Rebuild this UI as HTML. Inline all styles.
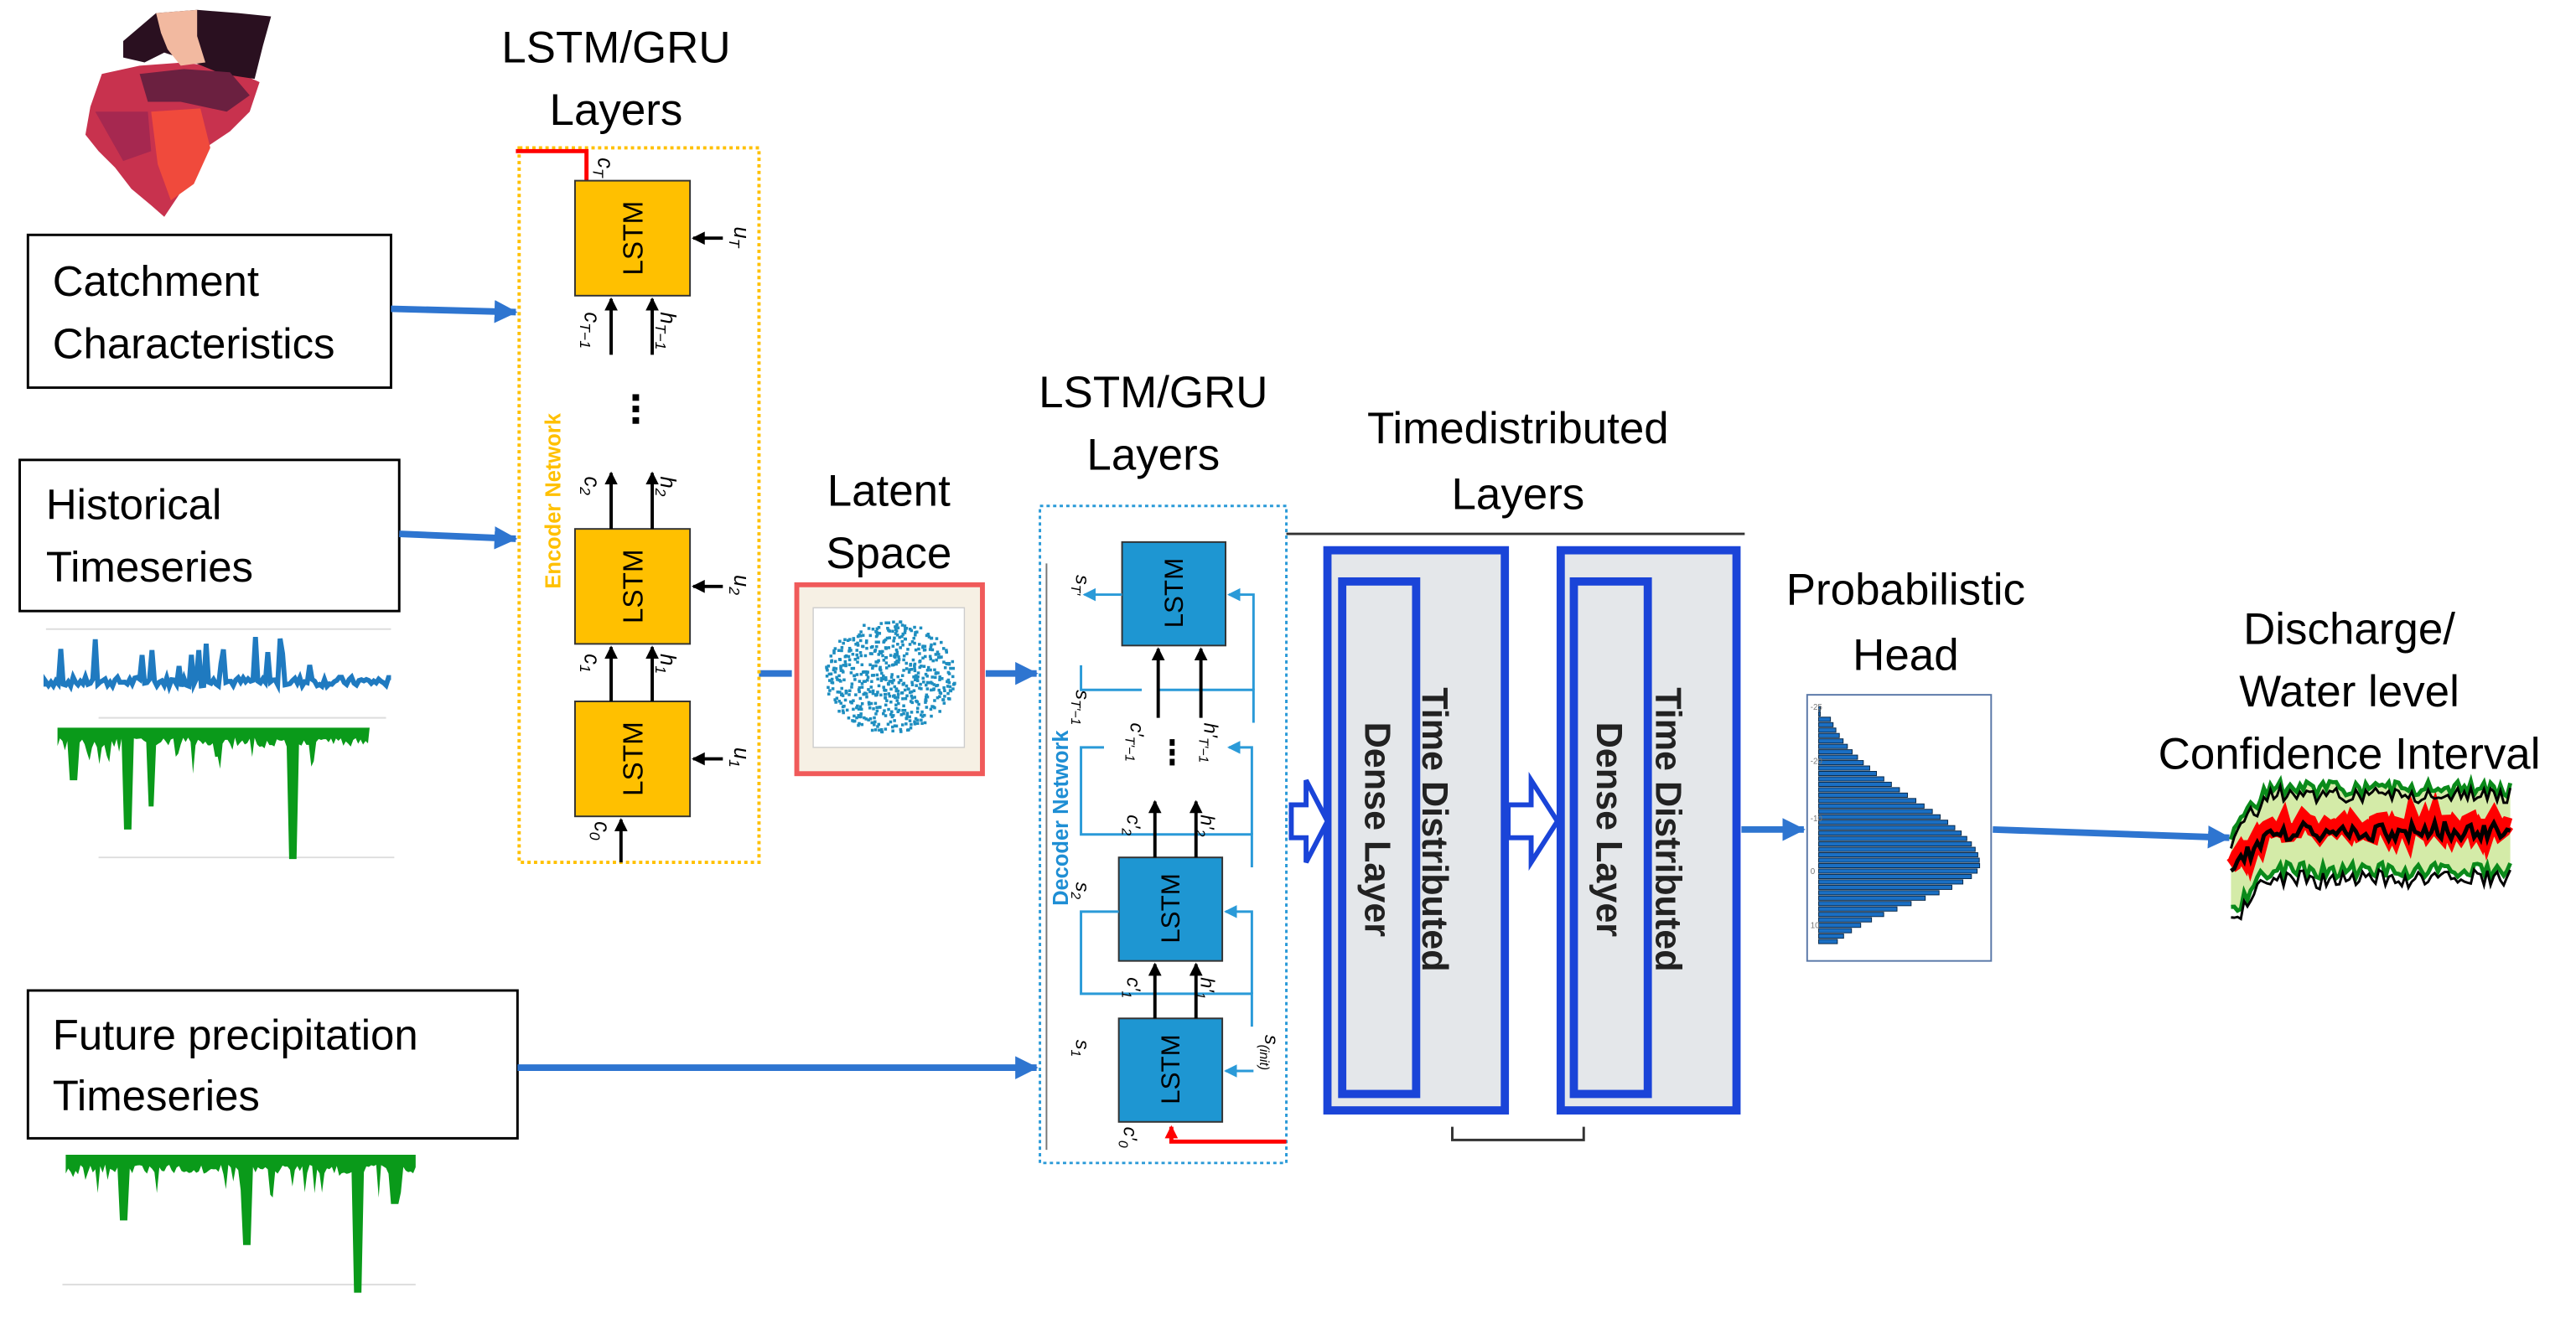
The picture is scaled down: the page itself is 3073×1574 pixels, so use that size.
<!DOCTYPE html>
<html><head><meta charset="utf-8"><style>
html,body{margin:0;padding:0;background:#fff;}
svg{display:block;}
text{font-family:"Liberation Sans",sans-serif;}
</style></head><body>
<svg id="s" width="3073" height="1574" viewBox="0 0 1568 803" preserveAspectRatio="none" xmlns="http://www.w3.org/2000/svg">
<defs>
<marker id="ab" markerWidth="14" markerHeight="14" refX="13" refY="7" orient="auto" markerUnits="userSpaceOnUse"><path d="M0,0 L14,7 L0,14 z" fill="#2E75D0"/></marker>
<marker id="ak" markerWidth="8" markerHeight="8" refX="7" refY="4" orient="auto" markerUnits="userSpaceOnUse"><path d="M0,0 L8,4 L0,8 z" fill="#000"/></marker>
<marker id="al" markerWidth="8" markerHeight="8" refX="7" refY="4" orient="auto" markerUnits="userSpaceOnUse"><path d="M0,0 L8,4 L0,8 z" fill="#2A9AD8"/></marker>
<marker id="ar" markerWidth="8" markerHeight="8" refX="7" refY="4" orient="auto" markerUnits="userSpaceOnUse"><path d="M0,0 L8,4 L0,8 z" fill="#f00"/></marker>
</defs>

<!-- catchment map -->
<g>
<path d="M62,45 L85,40 L112,38 L140,42 L158,50 L152,68 L140,80 L125,90 L118,105 L108,120 L100,132 L92,125 L80,115 L70,102 L60,92 L52,82 L55,65 Z" fill="#C8324E"/>
<path d="M75,25 L95,8 L120,6 L145,8 L165,10 L160,28 L155,48 L135,45 L118,38 L100,32 L88,38 L75,35 Z" fill="#2A1020"/>
<path d="M95,8 L120,6 L120,22 L125,38 L110,40 L102,30 L98,20 Z" fill="#F2B9A0"/>
<path d="M85,45 L112,42 L140,44 L152,58 L138,68 L110,62 L90,62 Z" fill="#6B2040"/>
<path d="M92,68 L122,66 L128,90 L118,112 L104,122 L96,100 Z" fill="#F04A3C"/>
<path d="M58,68 L90,68 L92,92 L75,98 Z" fill="#A62850"/>
</g>

<!-- left boxes -->
<rect x="17" y="143" width="221" height="93" fill="#fff" stroke="#000" stroke-width="1.5"/>
<text x="32" y="180" font-size="26">Catchment</text>
<text x="32" y="218" font-size="26">Characteristics</text>
<rect x="12" y="280" width="231" height="92" fill="#fff" stroke="#000" stroke-width="1.5"/>
<text x="28" y="316" font-size="26">Historical</text>
<text x="28" y="354" font-size="26">Timeseries</text>
<rect x="17" y="603" width="298" height="90" fill="#fff" stroke="#000" stroke-width="1.5"/>
<text x="32" y="639" font-size="26">Future precipitation</text>
<text x="32" y="676" font-size="26">Timeseries</text>

<!-- blue arrows -->
<g stroke="#2E75D0" stroke-width="4" fill="none" marker-end="url(#ab)">
<line x1="238" y1="188" x2="314" y2="190"/>
<line x1="243" y1="325" x2="314" y2="328"/>
<line x1="315" y1="650" x2="631" y2="650"/>
<line x1="600" y1="410" x2="631" y2="410"/>
<line x1="1060" y1="505" x2="1098" y2="505"/>
<line x1="1213" y1="505" x2="1357" y2="510"/>
</g>
<line x1="462" y1="410" x2="482" y2="410" stroke="#2E75D0" stroke-width="4"/>

<!-- historical timeseries -->
<line x1="28" y1="383" x2="238" y2="383" stroke="#ddd"/>
<line x1="60" y1="437" x2="235" y2="437" stroke="#ddd"/>
<line x1="60" y1="522" x2="240" y2="522" stroke="#ddd"/>
<path id="blueTS" fill="none" stroke="#1F7AC0" stroke-width="3"/>
<path id="greenH" fill="#0A9A1A"/>
<line x1="38" y1="782" x2="253" y2="782" stroke="#ddd"/>
<path id="greenF" fill="#0A9A1A"/>

<!-- Encoder -->
<text x="375" y="38" font-size="27" text-anchor="middle">LSTM/GRU</text>
<text x="375" y="76" font-size="27" text-anchor="middle">Layers</text>
<rect x="316" y="90" width="146" height="435" fill="none" stroke="#FFC000" stroke-width="2" stroke-dasharray="2,2"/>
<text transform="translate(341,305) rotate(-90)" font-size="13" font-weight="bold" fill="#FFC000" text-anchor="middle">Encoder Network</text>
<polyline points="314,92 357,92 357,110" fill="none" stroke="#f00" stroke-width="2.5"/>
<g fill="#FFC000" stroke="#333" stroke-width="1">
<rect x="350" y="110" width="70" height="70"/>
<rect x="350" y="322" width="70" height="70"/>
<rect x="350" y="427" width="70" height="70"/>
</g>
<g font-size="17" text-anchor="middle">
<text transform="translate(385,145) rotate(-90)" dy="6">LSTM</text>
<text transform="translate(385,357) rotate(-90)" dy="6">LSTM</text>
<text transform="translate(385,462) rotate(-90)" dy="6">LSTM</text>
</g>
<g stroke="#000" stroke-width="2" marker-end="url(#ak)">
<line x1="372" y1="216" x2="372" y2="182"/><line x1="397" y1="216" x2="397" y2="182"/>
<line x1="372" y1="322" x2="372" y2="288"/><line x1="397" y1="322" x2="397" y2="288"/>
<line x1="372" y1="427" x2="372" y2="394"/><line x1="397" y1="427" x2="397" y2="394"/>
<line x1="378" y1="525" x2="378" y2="499"/>
<line x1="440" y1="145" x2="422" y2="145"/><line x1="440" y1="357" x2="422" y2="357"/><line x1="440" y1="462" x2="422" y2="462"/>
</g>
<g font-family="Liberation Serif" font-style="italic" font-size="13">
<text transform="translate(364,96) rotate(90)">c<tspan font-size="9" dy="3">T</tspan></text>
<text transform="translate(356,190) rotate(90)">c<tspan font-size="9" dy="3">T−1</tspan></text>
<text transform="translate(402,190) rotate(90)">h<tspan font-size="9" dy="3">T−1</tspan></text>
<text transform="translate(356,290) rotate(90)">c<tspan font-size="9" dy="3">2</tspan></text>
<text transform="translate(402,290) rotate(90)">h<tspan font-size="9" dy="3">2</tspan></text>
<text transform="translate(356,398) rotate(90)">c<tspan font-size="9" dy="3">1</tspan></text>
<text transform="translate(402,398) rotate(90)">h<tspan font-size="9" dy="3">1</tspan></text>
<text transform="translate(362,500) rotate(90)">c<tspan font-size="9" dy="3">0</tspan></text>
<text transform="translate(447,138) rotate(90)">u<tspan font-size="9" dy="3">T</tspan></text>
<text transform="translate(447,350) rotate(90)">u<tspan font-size="9" dy="3">2</tspan></text>
<text transform="translate(447,455) rotate(90)">u<tspan font-size="9" dy="3">1</tspan></text>
</g>
<g fill="#000"><rect x="385" y="240" width="4" height="4"/><rect x="385" y="247" width="4" height="4"/><rect x="385" y="254" width="4" height="4"/></g>

<!-- Latent -->
<text x="541" y="308" font-size="27" text-anchor="middle">Latent</text>
<text x="541" y="346" font-size="27" text-anchor="middle">Space</text>
<rect x="485" y="356" width="113" height="115" fill="#F6F0E4" stroke="#F05A5A" stroke-width="3"/>
<rect x="495" y="370" width="92" height="85" fill="#fff" stroke="#ccc" stroke-width="0.7"/>
<g id="scatter" fill="#1E8EC0"></g>

<!-- Decoder -->
<text x="702" y="248" font-size="27" text-anchor="middle">LSTM/GRU</text>
<text x="702" y="286" font-size="27" text-anchor="middle">Layers</text>
<rect x="633" y="308" width="150" height="400" fill="none" stroke="#2A9AD8" stroke-width="1.5" stroke-dasharray="2,2"/>
<line x1="637" y1="343" x2="637" y2="700" stroke="#777" stroke-width="1"/>
<text transform="translate(650,498) rotate(-90)" font-size="13" font-weight="bold" fill="#1E8ED4" text-anchor="middle">Decoder Network</text>
<g fill="#1E96D2" stroke="#333" stroke-width="1">
<rect x="683" y="330" width="63" height="63"/>
<rect x="681" y="522" width="63" height="63"/>
<rect x="681" y="620" width="63" height="63"/>
</g>
<g font-size="16" text-anchor="middle">
<text transform="translate(714,361) rotate(-90)" dy="6">LSTM</text>
<text transform="translate(712,553) rotate(-90)" dy="6">LSTM</text>
<text transform="translate(712,651) rotate(-90)" dy="6">LSTM</text>
</g>
<g stroke="#2A9AD8" stroke-width="1.5" fill="none">
<polyline points="763,440 763,420 705,420"/>
<polyline points="762,528 762,508 658,508 658,455 672,455"/>
<polyline points="762,625 762,605 658,605 658,555 681,555"/>
<polyline points="658,405 658,420 695,420"/>
</g>
<g stroke="#2A9AD8" stroke-width="1.5" fill="none" marker-end="url(#al)">
<polyline points="763,420 763,362 748,362"/>
<polyline points="683,362 660,362"/>
<polyline points="762,508 762,455 748,455"/>
<polyline points="762,605 762,555 746,555"/>
<line x1="763" y1="652" x2="746" y2="652"/>
</g>
<g stroke="#000" stroke-width="2" marker-end="url(#ak)">
<line x1="705" y1="437" x2="705" y2="395"/><line x1="731" y1="437" x2="731" y2="395"/>
<line x1="703" y1="522" x2="703" y2="488"/><line x1="728" y1="522" x2="728" y2="488"/>
<line x1="703" y1="620" x2="703" y2="587"/><line x1="728" y1="620" x2="728" y2="587"/>
</g>
<polyline points="783,695 713,695 713,686" fill="none" stroke="#f00" stroke-width="2.5" marker-end="url(#ar)"/>
<g fill="#000"><rect x="712" y="450" width="3" height="4"/><rect x="712" y="456" width="3" height="4"/><rect x="712" y="462" width="3" height="4"/></g>
<g font-family="Liberation Serif" font-style="italic" font-size="12">
<text transform="translate(655,350) rotate(90)">s<tspan font-size="8" dy="3">T′</tspan></text>
<text transform="translate(655,420) rotate(90)">s<tspan font-size="8" dy="3">T′−1</tspan></text>
<text transform="translate(688,440) rotate(90)">c′<tspan font-size="8" dy="3">T′−1</tspan></text>
<text transform="translate(733,440) rotate(90)">h′<tspan font-size="8" dy="3">T′−1</tspan></text>
<text transform="translate(686,496) rotate(90)">c′<tspan font-size="8" dy="3">2</tspan></text>
<text transform="translate(731,496) rotate(90)">h′<tspan font-size="8" dy="3">2</tspan></text>
<text transform="translate(655,537) rotate(90)">s<tspan font-size="8" dy="3">2</tspan></text>
<text transform="translate(686,595) rotate(90)">c′<tspan font-size="8" dy="3">1</tspan></text>
<text transform="translate(731,595) rotate(90)">h′<tspan font-size="8" dy="3">1</tspan></text>
<text transform="translate(655,633) rotate(90)">s<tspan font-size="8" dy="3">1</tspan></text>
<text transform="translate(684,686) rotate(90)">c′<tspan font-size="8" dy="3">0</tspan></text>
<text transform="translate(770,630) rotate(90)">s<tspan font-size="8" dy="3">(init)</tspan></text>
</g>

<!-- Timedistributed -->
<text x="924" y="270" font-size="27" text-anchor="middle">Timedistributed</text>
<text x="924" y="310" font-size="27" text-anchor="middle">Layers</text>
<line x1="783" y1="325" x2="1062" y2="325" stroke="#333" stroke-width="1.5"/>
<g stroke="#1A44D8" stroke-width="5" fill="#E4E7EA">
<rect x="808" y="335" width="108" height="341"/>
<rect x="817" y="354" width="45" height="312"/>
<rect x="950" y="335" width="107" height="341"/>
<rect x="958" y="354" width="45" height="312"/>
</g>
<g font-size="22" font-weight="bold" text-anchor="middle" fill="#222">
<text transform="translate(874,505) rotate(90)" dy="8">Time Distributed</text>
<text transform="translate(839,505) rotate(90)" dy="8">Dense Layer</text>
<text transform="translate(1016,505) rotate(90)" dy="8">Time Distributed</text>
<text transform="translate(980,505) rotate(90)" dy="8">Dense Layer</text>
</g>
<g stroke="#1A44D8" stroke-width="3" fill="#fff">
<path d="M786,490 L795,490 L795,475 L808,500 L795,525 L795,510 L786,510 Z"/>
<path d="M918,490 L932,490 L932,475 L948,500 L932,525 L932,510 L918,510 Z"/>
</g>
<polyline points="884,686 884,694 964,694 964,686" fill="none" stroke="#333" stroke-width="1.5"/>

<!-- Probabilistic head -->
<text x="1160" y="368" font-size="27" text-anchor="middle">Probabilistic</text>
<text x="1160" y="408" font-size="27" text-anchor="middle">Head</text>
<rect x="1100" y="423" width="112" height="162" fill="#fff" stroke="#5A78A8" stroke-width="1"/>
<g id="hist"></g>
<g font-size="5" fill="#777">
<text x="1102" y="432">-25</text><text x="1102" y="465">-20</text><text x="1102" y="500">-10</text><text x="1102" y="532">0</text><text x="1102" y="565">10</text>
</g>

<!-- Discharge -->
<text x="1430" y="392" font-size="27" text-anchor="middle">Discharge/</text>
<text x="1430" y="430" font-size="27" text-anchor="middle">Water level</text>
<text x="1430" y="468" font-size="27" text-anchor="middle">Confidence Interval</text>
<g id="ci"></g>
</svg>
<script>
var seed=7;function r(){seed=(seed*9301+49297)%233280;return seed/233280;}
var ns="http://www.w3.org/2000/svg";
function el(t,a,p){var e=document.createElementNS(ns,t);for(var k in a)e.setAttribute(k,a[k]);(p||document.getElementById('s')).appendChild(e);return e;}
var d="M28,418";for(var x=28;x<=238;x+=1.5){var y=418-r()*6;if(r()<0.08)y-=10+r()*18;d+=" L"+x+","+y.toFixed(1);}
document.getElementById('blueTS').setAttribute('d',d);
function green(x0,x1,y0,maxd,spikes,id){var d="M"+x0+","+y0;for(var x=x0;x<=x1;x+=1.5){var y=y0+6+r()*6;if(r()<0.12)y+=r()*18;for(var i=0;i<spikes.length;i++)if(Math.abs(x-spikes[i][0])<3)y=y0+spikes[i][1];d+=" L"+x+","+y.toFixed(1);}d+=" L"+x1+","+y0+" Z";document.getElementById(id).setAttribute('d',d);}
green(35,225,443,0,[[78,62],[92,48],[178,80],[45,32]],'greenH');
green(40,253,703,0,[[150,55],[218,84],[75,40],[240,30]],'greenF');
var g=document.getElementById('scatter');
for(var i=0;i<600;i++){var a=r()*6.283,rr=Math.sqrt(r())*36;el('rect',{x:(541+Math.cos(a)*rr*1.1).toFixed(1),y:(411+Math.sin(a)*rr*0.95).toFixed(1),width:1.8,height:1.8},g);}
var h=document.getElementById('hist');
for(var i=0;i<44;i++){var y=430+i*3.3;var t=(y-525)/ (y<525?60:35);var w=98*Math.exp(-t*t*1.2);if(i<2)w=1;el('rect',{x:1107,y:y.toFixed(1),width:w.toFixed(1),height:2.6,fill:'#1A6FC4',stroke:'#0A2A4A','stroke-width':0.5},h);}
var c=document.getElementById('ci');
var up=[],lo=[],mid=[];for(var x=1358;x<=1528;x+=2){var b=x<1380?(1380-x)*1.2:0;up.push([x,480+b+(r()-0.5)*10]);lo.push([x,530+b+(r()-0.5)*10]);mid.push([x,506+b+(r()-0.5)*12]);}
function pts(a){return a.map(function(p){return p[0]+","+p[1].toFixed(1)}).join(" ");}
el('polygon',{points:pts(up)+" "+pts(lo.slice().reverse()),fill:'#D4EBA8'},c);
el('polyline',{points:pts(mid.map(function(p){return[p[0],p[1]-3]})),fill:'none',stroke:'#f00','stroke-width':9},c);
el('polyline',{points:pts(mid),fill:'none',stroke:'#000','stroke-width':2.5},c);
el('polyline',{points:pts(up),fill:'none',stroke:'#0A8A1A','stroke-width':2.5},c);
el('polyline',{points:pts(lo),fill:'none',stroke:'#0A8A1A','stroke-width':2.5},c);
el('polyline',{points:pts(up.map(function(p){return[p[0],p[1]+3+r()*3]})),fill:'none',stroke:'#000','stroke-width':1.5},c);
el('polyline',{points:pts(lo.map(function(p){return[p[0],p[1]+3+r()*4]})),fill:'none',stroke:'#000','stroke-width':1.5},c);
</script>
</body></html>
